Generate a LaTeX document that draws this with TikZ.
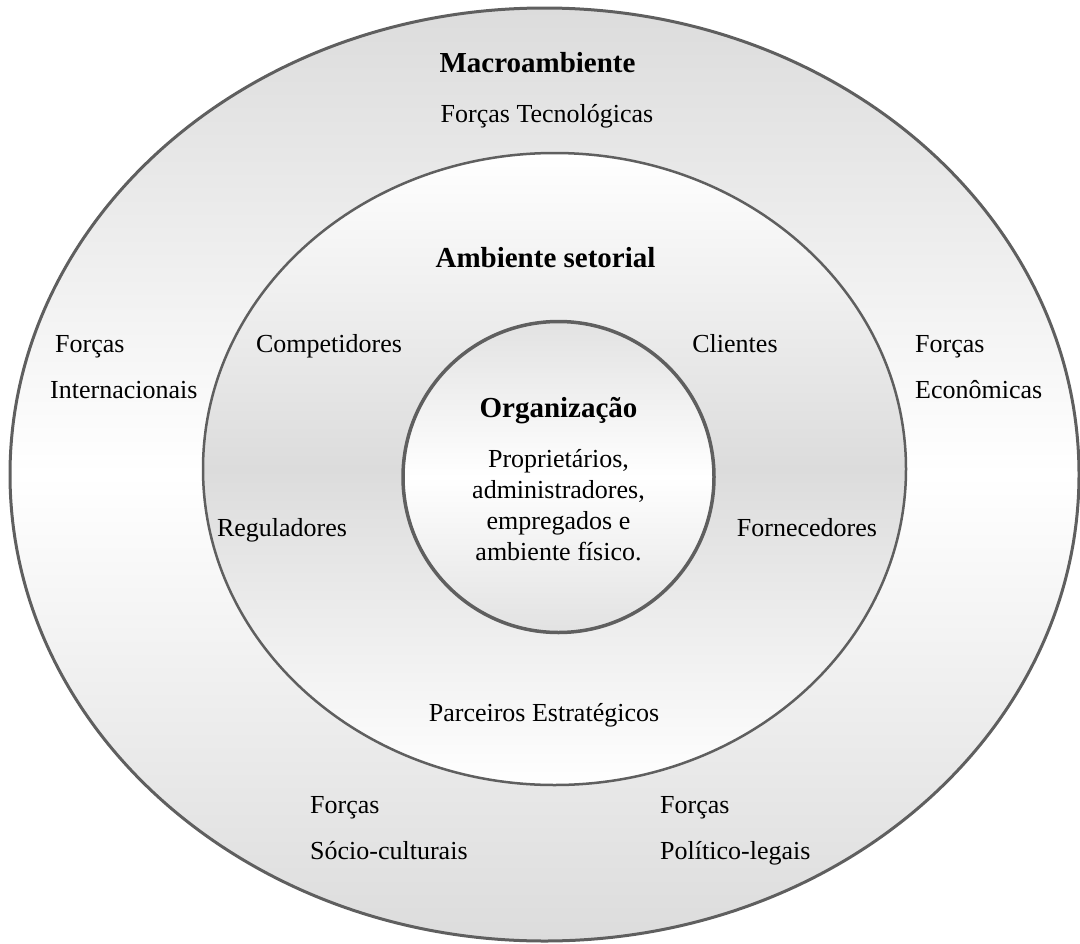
\documentclass[tikz,border=0pt]{standalone}
\usepackage{fontspec}
\setmainfont{Liberation Serif}
\definecolor{edge}{RGB}{95,95,95}
\definecolor{ringgray}{RGB}{220,220,220}
\definecolor{coregray}{RGB}{226,226,226}
\begin{document}
\begin{tikzpicture}[x=1bp,y=1bp,
  lbl/.style={font=\fontsize{26bp}{31bp}\selectfont, inner sep=0pt, anchor=base},
  ttl/.style={font=\fontsize{29bp}{34bp}\selectfont\bfseries, inner sep=0pt, anchor=base},
  lblw/.style={lbl, anchor=base west}]
\useasboundingbox (0,0) rectangle (1080,-944);

% macro environment (outer ring)
\path[draw=edge, line width=3bp, top color=ringgray, bottom color=ringgray, middle color=white]
  (544.5,-474.5) ellipse [x radius=534.5, y radius=466.5];
% sector environment (middle ring)
\path[draw=edge, line width=2.5bp, top color=white, bottom color=white, middle color=ringgray]
  (554.5,-469) ellipse [x radius=351.5, y radius=316];
% organisation (core)
\path[draw=edge, line width=3.5bp, top color=coregray, bottom color=coregray, middle color=white]
  (558.5,-477) circle [radius=155.5];

% outer ring labels
\node[ttl] (macro) at (537.5,-72) {Macroambiente};
\node[lbl] (tec) at (547,-122) {Forças Tecnológicas};
\node[lblw] (intA) at (55,-352) {Forças};
\node[lblw] (intB) at (50,-398) {Internacionais};
\node[lblw] (ecoA) at (915,-352) {Forças};
\node[lblw] (ecoB) at (915,-398) {Econômicas};
\node[lblw] (socA) at (310,-813) {Forças};
\node[lblw] (socB) at (310,-859) {Sócio-culturais};
\node[lblw] (polA) at (660,-813) {Forças};
\node[lblw] (polB) at (660,-859) {Político-legais};

% middle ring labels
\node[ttl] (setor) at (545.5,-267) {Ambiente setorial};
\node[lbl] (comp) at (329,-352) {Competidores};
\node[lbl] (cli) at (735,-352) {Clientes};
\node[lbl] (reg) at (282,-536) {Reguladores};
\node[lbl] (forn) at (807,-536) {Fornecedores};
\node[lbl] (parc) at (544,-721) {Parceiros Estratégicos};

% core labels
\node[ttl] (org) at (558.5,-417) {Organização};
\node[lbl, anchor=center, align=center] (memb) at (558.5,-505.5)
  {Proprietários,\\administradores,\\empregados e\\ambiente físico.};
\end{tikzpicture}
\end{document}
